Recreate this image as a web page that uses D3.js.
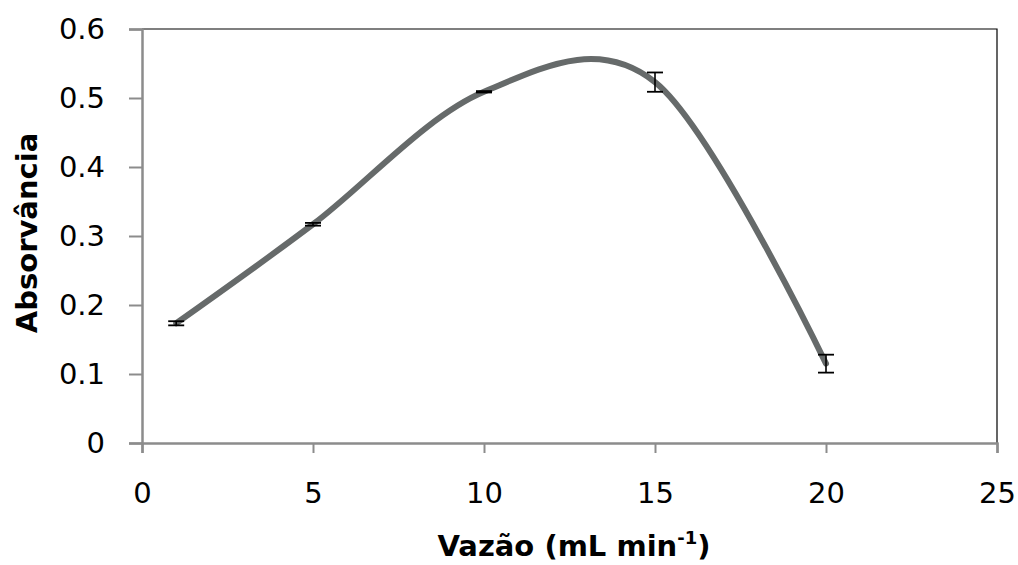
<!DOCTYPE html>
<html>
<head>
<meta charset="utf-8">
<script src="https://cdn.jsdelivr.net/npm/d3@7"></script>
<style>
  body { margin: 0; background: #fff; }
  text { font-family: "DejaVu Sans", sans-serif; fill: #000; }
</style>
</head>
<body>
<svg id="chart" width="1018" height="565"></svg>
<script>
// Vazão (mL/min) vs absorbance, with error bars
const flowRates = [1, 5, 10, 15, 20];
const absorbance = [0.1735, 0.317, 0.509, 0.523, 0.115];
const errors = [0.003, 0.002, 0.001, 0.014, 0.013];
const xTicks = [0, 5, 10, 15, 20, 25];
const yTicks = [0, 0.1, 0.2, 0.3, 0.4, 0.5, 0.6];

const svg = d3.select('#chart');
const margin = {left: 142, right: 21, top: 29, bottom: 122};
const width = 1018 - margin.left - margin.right;
const height = 565 - margin.top - margin.bottom;

const x = d3.scaleLinear().domain([0, 25]).range([0, width]);
const y = d3.scaleLinear().domain([0, 0.6]).range([height, 0]);

const g = svg.append('g')
  .attr('transform', `translate(${margin.left},${margin.top})`);

// top and right border (thin black)
g.append('path')
  .attr('d', `M0,0H${width}V${height}`)
  .attr('fill', 'none')
  .attr('stroke', '#000')
  .attr('stroke-width', 1.2);

// y axis
const yAxis = g.append('g')
  .call(d3.axisLeft(y).tickValues(yTicks).tickSize(13).tickPadding(24)
    .tickFormat(d => d === 0 ? '0' : d3.format('.1f')(d)));
yAxis.select('.domain').attr('stroke', '#8c8c8c').attr('stroke-width', 2.5);
yAxis.selectAll('.tick line').attr('stroke', '#8c8c8c').attr('stroke-width', 2);
yAxis.selectAll('text').attr('font-size', 29).attr('font-family', '"DejaVu Sans", sans-serif').attr('fill', '#000');

// x axis
const xAxis = g.append('g')
  .attr('transform', `translate(0,${height})`)
  .call(d3.axisBottom(x).tickValues(xTicks).tickSize(10).tickPadding(29));
xAxis.select('.domain').attr('stroke', '#8c8c8c').attr('stroke-width', 2.5);
xAxis.selectAll('.tick line').attr('stroke', '#8c8c8c').attr('stroke-width', 2);
xAxis.selectAll('text').attr('font-size', 29).attr('font-family', '"DejaVu Sans", sans-serif').attr('fill', '#000');

// smoothed series line
const points = flowRates.map((f, i) => [f, absorbance[i]]);
const line = d3.line()
  .x(d => x(d[0]))
  .y(d => y(d[1]))
  .curve(d3.curveCatmullRom.alpha(0));

g.append('path')
  .datum(points)
  .attr('d', line)
  .attr('fill', 'none')
  .attr('stroke', '#666a6a')
  .attr('stroke-width', 6)
  .attr('stroke-linecap', 'round');

// error bars
const bars = g.selectAll('.err')
  .data(flowRates.map((f, i) => ({f: f, v: absorbance[i], e: errors[i]})))
  .join('g')
  .attr('class', 'err');

bars.append('line')
  .attr('x1', d => x(d.f)).attr('x2', d => x(d.f))
  .attr('y1', d => y(d.v - d.e)).attr('y2', d => y(d.v + d.e))
  .attr('stroke', '#000').attr('stroke-width', 1.6);
bars.append('line')
  .attr('x1', d => x(d.f) - 8).attr('x2', d => x(d.f) + 8)
  .attr('y1', d => y(d.v - d.e)).attr('y2', d => y(d.v - d.e))
  .attr('stroke', '#000').attr('stroke-width', 1.8);
bars.append('line')
  .attr('x1', d => x(d.f) - 8).attr('x2', d => x(d.f) + 8)
  .attr('y1', d => y(d.v + d.e)).attr('y2', d => y(d.v + d.e))
  .attr('stroke', '#000').attr('stroke-width', 1.8);

// axis titles
const xTitle = svg.append('text')
  .attr('x', 574)
  .attr('y', 556)
  .attr('text-anchor', 'middle')
  .attr('font-size', 29)
  .attr('font-weight', 'bold');
xTitle.append('tspan').text('Vazão (mL min');
xTitle.append('tspan').text('-1').attr('font-size', 18).attr('dy', -12);
xTitle.append('tspan').text(')').attr('dy', 12);

svg.append('text')
  .attr('transform', 'translate(37,233) rotate(-90)')
  .attr('text-anchor', 'middle')
  .attr('font-size', 29)
  .attr('font-weight', 'bold')
  .text('Absorvância');
</script>
</body>
</html>
